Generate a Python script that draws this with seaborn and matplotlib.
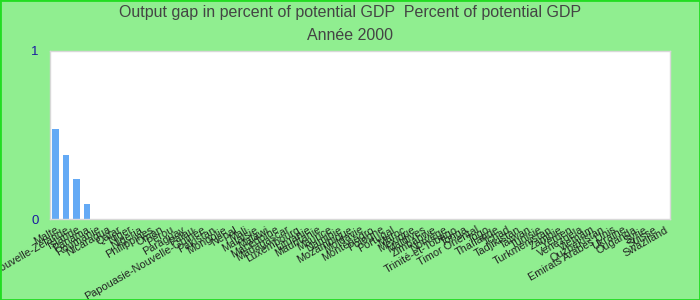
import matplotlib
matplotlib.use("Agg")
import matplotlib.pyplot as plt
import seaborn as sns
import pandas as pd

countries = [
    "Malte", "Nouvelle-Zélande", "Islande", "Panama", "Roumanie", "Nicaragua",
    "Qatar", "Niger", "Nigeria", "Philippines", "Oman", "Pérou", "Paraguay",
    "Palau", "Papouasie-Nouvelle-Guinée", "Pakistan", "Mongolie", "Népal",
    "Mali", "Malaisie", "Malawi", "Macédoine", "Madagascar", "Luxembourg",
    "Lituanie", "Mauritanie", "Maurice", "Namibie", "Mozambique", "Moldavie",
    "Monténégro", "Pologne", "Portugal", "Maroc", "Mexique", "Maldives",
    "Zimbabwe", "Norvège", "Trinité-et-Tobago", "Tonga", "Timor Oriental",
    "Togo", "Thaïlande", "Tchad", "Tadjikistan", "Taïwan", "Tunisie",
    "Turkménistan", "Zambie", "Yémen", "Venezuela", "Vietnam", "Ouzbékistan",
    "Emirats Arabes Unis", "Ukraine", "Ouganda", "Syrie", "Suisse", "Swaziland",
]
values = [0.535, 0.38, 0.238, 0.089] + [0.0] * (len(countries) - 4)

title_line1 = "Output gap in percent of potential GDP  Percent of potential GDP"
title_line2 = "Année 2000"

df = pd.DataFrame({"pays": countries, "valeur": values})

sns.set_theme(style="white")
plt.rcParams["font.family"] = ["Liberation Sans", "DejaVu Sans"]

fig = plt.figure(figsize=(7, 3), dpi=100, facecolor="#90ee90")
ax = fig.add_axes([50 / 700, 81 / 300, 620 / 700, 168 / 300])
ax.set_facecolor("white")

sns.barplot(data=df, x="pays", y="valeur", color="#64aaf5", saturation=1,
            width=0.62, linewidth=0, ax=ax)

ax.set_ylim(0, 1)
ax.set_xlim(-0.5, len(countries) - 0.5)
ax.set_yticks([0, 1])
ax.set_yticklabels(["0", "1"], color="#1a1aa0", fontsize=9.5)
ax.tick_params(axis="y", length=0, pad=8)
ax.tick_params(axis="x", length=0, pad=4)
ax.set_xticks(range(len(countries)))
ax.set_xticklabels(countries, rotation=30, ha="right", rotation_mode="anchor",
                   fontsize=7.8, color="#222222")
ax.set_xlabel("")
ax.set_ylabel("")
for s in ax.spines.values():
    s.set_color("#d8d8d8")
    s.set_linewidth(1)

fig.text(0.5, 1 - 13 / 300, title_line1, ha="center", va="center",
         fontsize=11.5, color="#444444")
fig.text(0.5, 1 - 35 / 300, title_line2, ha="center", va="center",
         fontsize=11.5, color="#444444")

border = plt.Rectangle((0, 0), 1, 1, transform=fig.transFigure, fill=False,
                       edgecolor="#22dd22", linewidth=2)
fig.patches.append(border)

fig.savefig("out.png", dpi=100, facecolor=fig.get_facecolor())
